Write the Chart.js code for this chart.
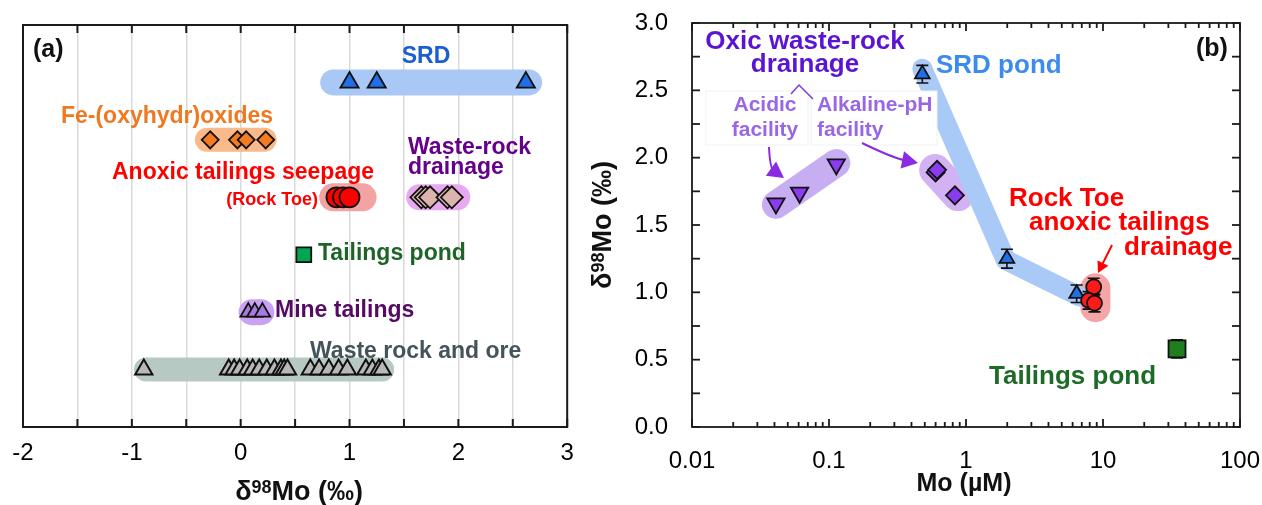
<!DOCTYPE html>
<html>
<head>
<meta charset="utf-8">
<script src="https://cdn.jsdelivr.net/npm/chart.js@4.4.1/dist/chart.umd.min.js"></script>
<style>
  body { margin: 0; background: #fff; }
  #wrap { position: relative; width: 1262px; height: 505px; }
  #chartA { position: absolute; left: 0; top: 0; }
  #chartB { position: absolute; left: 580px; top: 0; }
</style>
</head>
<body>
<div id="wrap">
  <canvas id="chartA" width="580" height="505"></canvas>
  <canvas id="chartB" width="682" height="505"></canvas>
</div>
<script>
const FONT = "'Liberation Sans', Arial, sans-serif";

// ---------- panel (a): d98Mo per reservoir, one row per group ----------
const rowSRD = 6, rowFe = 5, rowSeep = 4, rowPond = 3, rowMine = 2, rowWaste = 1;
const srdA = [1.0, 1.25, 2.62];
const feA = [-0.28, -0.03, 0.05, 0.23];
const rockToeA = [0.88, 0.94, 1.0];
const wrDrainA = [1.66, 1.70, 1.74, 1.90, 1.94];
const pondA = [0.58];
const mineTailA = [0.07, 0.13, 0.2];
const wasteRockA = [-0.89, -0.11, -0.06, -0.01, 0.06, 0.11, 0.17, 0.24, 0.31, 0.37, 0.40, 0.43,
                    0.64, 0.72, 0.81, 0.90, 0.98, 1.15, 1.21, 1.27, 1.30];
// shaded ranges behind each group (start, end)
const srdBandA = [0.85, 2.65];
const feBandA = [-0.31, 0.22];
const rockToeBandA = [0.85, 1.12];
const wrDrainBandA = [1.64, 1.99];
const mineBandA = [0.10, 0.19];
const wasteBandA = [-0.87, 1.30];

// ---------- panel (b): d98Mo vs Mo concentration ----------
const srdMo = [0.48, 1.99, 6.42];
const srdD = [2.62, 1.25, 0.99];
const srdErr = [0.065, 0.07, 0.065];
const rockToeMo = [8.55, 7.85, 8.67];
const rockToeD = [1.04, 0.94, 0.92];
const rockToeErr = [0.065, 0.065, 0.065];
const pondMo = [34.7];
const pondD = [0.58];
const pondErr = [0.068];
const acidicMo = [0.041, 0.061, 0.113];
const acidicD = [1.66, 1.74, 1.95];
const alkMo = [0.60, 0.615, 0.83];
const alkD = [1.89, 1.91, 1.72];
// shaded trends
const srdBandMo = [0.48, 1.95, 6.7];
const srdBandD = [2.66, 1.24, 0.97];
const acidicBandMo = [0.041, 0.113];
const acidicBandD = [1.65, 1.96];
const alkBandMo = [0.595, 0.875];
const alkBandD = [1.908, 1.722];
const rockToeBandMo = [8.8, 8.8];
const rockToeBandD = [1.03, 0.89];

const onRow = (xs, row) => xs.map(x => ({ x, y: row }));
const pairs = (xs, ys) => xs.map((x, i) => ({ x, y: ys[i] }));

function pointSet(data, style, fill, r, extra) {
  return Object.assign({
    data, pointStyle: style, pointRadius: r, pointHoverRadius: r,
    pointBackgroundColor: fill, pointBorderColor: '#111', pointBorderWidth: 1.8,
    showLine: false, order: 1
  }, extra || {});
}
function bandSet(data, color, w) {
  return {
    data, showLine: true, borderColor: color, borderWidth: w,
    borderCapStyle: 'round', borderJoinStyle: 'round',
    pointRadius: 0, pointHoverRadius: 0, order: 5
  };
}

function drawRich(ctx, parts, x, y, align) {
  let w = 0;
  parts.forEach(p => { ctx.font = `bold ${p[1]}px ${FONT}`; w += ctx.measureText(p[0]).width; });
  let cx = align === 'center' ? x - w / 2 : align === 'right' ? x - w : x;
  ctx.textAlign = 'left';
  ctx.textBaseline = 'middle';
  parts.forEach(p => {
    ctx.font = `bold ${p[1]}px ${FONT}`;
    ctx.fillText(p[0], cx, y - (p[2] || 0));
    cx += ctx.measureText(p[0]).width;
  });
}

function arrow(ctx, pts, color, lw, head) {
  ctx.strokeStyle = color; ctx.fillStyle = color; ctx.lineWidth = lw;
  const tip = pts[pts.length - 1], from = pts[pts.length - 2];
  const a = Math.atan2(tip[1] - from[1], tip[0] - from[0]);
  const bx = tip[0] - Math.cos(a) * head * 0.8, by = tip[1] - Math.sin(a) * head * 0.8;
  ctx.beginPath();
  ctx.moveTo(pts[0][0], pts[0][1]);
  if (pts.length === 3) ctx.quadraticCurveTo(pts[1][0], pts[1][1], bx, by);
  else ctx.lineTo(bx, by);
  ctx.stroke();
  const px = -Math.sin(a), py = Math.cos(a);
  const hx = tip[0] - Math.cos(a) * head, hy = tip[1] - Math.sin(a) * head;
  ctx.beginPath();
  ctx.moveTo(tip[0], tip[1]);
  ctx.lineTo(hx + px * head * 0.55, hy + py * head * 0.55);
  ctx.lineTo(hx - px * head * 0.55, hy - py * head * 0.55);
  ctx.closePath();
  ctx.fill();
}

const errorBars = {
  id: 'errorBars',
  beforeDatasetDraw(chart, args) {
    const ds = chart.data.datasets[args.index];
    if (!ds.err) return;
    const { ctx, scales: { x, y } } = chart;
    ctx.save();
    ctx.strokeStyle = '#111';
    ctx.lineWidth = 1.6;
    ds.data.forEach((p, i) => {
      const px = x.getPixelForValue(p.x);
      const t = y.getPixelForValue(p.y + ds.err[i]);
      const b = y.getPixelForValue(p.y - ds.err[i]);
      ctx.beginPath();
      ctx.moveTo(px, t); ctx.lineTo(px, b);
      ctx.moveTo(px - 6, t); ctx.lineTo(px + 6, t);
      ctx.moveTo(px - 6, b); ctx.lineTo(px + 6, b);
      ctx.stroke();
    });
    ctx.restore();
  }
};

// labels, boxes and arrows, given in page pixels
function notes(ox, cfg) {
  return {
    id: 'notes',
    afterDatasetsDraw(chart) {
      const ctx = chart.ctx;
      ctx.save();
      (cfg.boxes || []).forEach(b => {
        ctx.fillStyle = '#fff';
        ctx.fillRect(b[0] - ox, b[1], b[2], b[3]);
        ctx.strokeStyle = '#f2f2f2'; ctx.lineWidth = 1;
        ctx.strokeRect(b[0] - ox, b[1], b[2], b[3]);
      });
      (cfg.arrows || []).forEach(a => {
        arrow(ctx, a.pts.map(p => [p[0] - ox, p[1]]), a.color, a.lw, a.head);
      });
      (cfg.lines || []).forEach(l => {
        ctx.strokeStyle = l.color; ctx.lineWidth = l.lw;
        ctx.beginPath();
        l.pts.forEach((p, i) => i ? ctx.lineTo(p[0] - ox, p[1]) : ctx.moveTo(p[0] - ox, p[1]));
        ctx.stroke();
      });
      cfg.texts.forEach(t => {
        ctx.fillStyle = t.color;
        drawRich(ctx, [[t.t, t.size]], t.x - ox, t.y, t.align);
      });
      const a = chart.chartArea;
      ctx.fillStyle = '#111';
      drawRich(ctx, cfg.xTitle, (a.left + a.right) / 2 + (cfg.xTitleDx || 0), cfg.xTitleY, 'center');
      if (cfg.yTitle) {
        ctx.save();
        ctx.translate(cfg.yTitleX - ox, (a.top + a.bottom) / 2);
        ctx.rotate(-Math.PI / 2);
        drawRich(ctx, cfg.yTitle, 0, 0, 'center');
        ctx.restore();
      }
      ctx.restore();
    }
  };
}

function tickLine(ctx, x1, y1, x2, y2) {
  ctx.beginPath(); ctx.moveTo(x1, y1); ctx.lineTo(x2, y2); ctx.stroke();
}

const frameA = {
  id: 'frameA',
  afterDraw(chart) {
    const { ctx, chartArea: a, scales: { x } } = chart;
    ctx.save();
    ctx.strokeStyle = '#1a1a1a';
    ctx.lineWidth = 2;
    x.ticks.forEach(t => {
      const px = x.getPixelForValue(t.value);
      tickLine(ctx, px, a.top, px, a.top + 8);
      tickLine(ctx, px, a.bottom, px, a.bottom - 8);
    });
    ctx.strokeRect(a.left, a.top, a.width, a.height);
    ctx.restore();
  }
};

const frameB = {
  id: 'frameB',
  afterDraw(chart) {
    const { ctx, chartArea: a, scales: { x, y } } = chart;
    ctx.save();
    ctx.strokeStyle = '#1a1a1a';
    ctx.lineWidth = 1.8;
    y.ticks.forEach(t => {
      const py = y.getPixelForValue(t.value);
      tickLine(ctx, a.left, py, a.left + 8, py);
      tickLine(ctx, a.right, py, a.right - 8, py);
    });
    for (let e = Math.round(Math.log10(x.min)); e < Math.round(Math.log10(x.max)) + 1; e++) {
      for (let m = 1; m <= 9; m++) {
        const v = m * Math.pow(10, e);
        if (v > x.max * 1.0001) break;
        const px = x.getPixelForValue(v);
        const len = m === 1 ? 8 : 5;
        tickLine(ctx, px, a.bottom, px, a.bottom - len);
        tickLine(ctx, px, a.top, px, a.top + len);
      }
    }
    ctx.strokeRect(a.left, a.top, a.width, a.height);
    ctx.restore();
  }
};

const noPad = s => { s.paddingLeft = 0; s.paddingRight = 0; s.paddingTop = 0; s.paddingBottom = 0; };
const titleD = [['δ', 27], ['98', 18, 4.5], ['Mo (‰)', 27]];

// ---------------- chart (a) ----------------
new Chart(document.getElementById('chartA'), {
  type: 'scatter',
  data: {
    datasets: [
      pointSet(onRow(srdA, rowSRD), 'triangle', '#1f6fe8', 10.5),
      pointSet(onRow(feA, rowFe), 'rectRot', '#f47b20', 8.5),
      pointSet(onRow(rockToeA, rowSeep), 'circle', '#ff0000', 10),
      pointSet(onRow(wrDrainA, rowSeep), 'rectRot', '#dcb4ae', 11),
      pointSet(onRow(pondA, rowPond), 'rect', '#00a651', 10.5),
      pointSet(onRow(mineTailA, rowMine), 'triangle', '#a77ae0', 9),
      pointSet(onRow(wasteRockA, rowWaste), 'triangle', '#b8b8b8', 10, { pointBorderWidth: 2 }),
      bandSet(onRow(srdBandA, rowSRD), '#aac8f5', 26),
      bandSet(onRow(feBandA, rowFe), '#f9b98a', 24),
      bandSet(onRow(rockToeBandA, rowSeep), '#f4a3a3', 28),
      bandSet(onRow(wrDrainBandA, rowSeep), '#e7a9f2', 26),
      bandSet(onRow(mineBandA, rowMine), '#c9a2f2', 26),
      bandSet(onRow(wasteBandA, rowWaste), '#b7c9c2', 24)
    ]
  },
  options: {
    responsive: false,
    animation: false,
    events: [],
    layout: { padding: { left: 23, right: 10, top: 25, bottom: 0 } },
    plugins: { legend: { display: false }, tooltip: { enabled: false } },
    scales: {
      x: {
        type: 'linear', min: -2, max: 3,
        afterFit: s => { s.height = 78; noPad(s); },
        border: { display: false },
        grid: { color: '#dadada', lineWidth: 1.5, drawTicks: false },
        ticks: {
          stepSize: 0.5, autoSkip: false, maxRotation: 0, padding: 12, color: '#000',
          font: { family: FONT, size: 24 },
          callback: v => Number.isInteger(v) ? String(v) : ''
        }
      },
      y: { type: 'linear', min: 0, max: 7, display: false }
    }
  },
  plugins: [errorBars, notes(0, {
    texts: [
      { t: '(a)', x: 33, y: 50, align: 'left', color: '#111', size: 25 },
      { t: 'SRD', x: 426, y: 57, align: 'center', color: '#1a5fd2', size: 23 },
      { t: 'Fe-(oxyhydr)oxides', x: 167, y: 117, align: 'center', color: '#f07820', size: 23 },
      { t: 'Anoxic tailings seepage', x: 243, y: 173, align: 'center', color: '#ff0000', size: 23 },
      { t: '(Rock Toe)', x: 318, y: 200, align: 'right', color: '#ff0000', size: 18 },
      { t: 'Waste-rock', x: 408, y: 148, align: 'left', color: '#64008a', size: 23 },
      { t: 'drainage', x: 408, y: 168, align: 'left', color: '#64008a', size: 23 },
      { t: 'Tailings pond', x: 318, y: 254, align: 'left', color: '#1e6428', size: 23 },
      { t: 'Mine tailings', x: 275, y: 311, align: 'left', color: '#550a64', size: 23 },
      { t: 'Waste rock and ore', x: 310, y: 352, align: 'left', color: '#44545a', size: 23 }
    ],
    xTitle: titleD, xTitleY: 493, xTitleDx: 4
  }), frameA]
});

// ---------------- chart (b) ----------------
const isDecade = v => Math.abs(Math.log10(v) - Math.round(Math.log10(v))) < 1e-9;

new Chart(document.getElementById('chartB'), {
  type: 'scatter',
  data: {
    datasets: [
      pointSet(pairs(rockToeMo, rockToeD), 'circle', '#ff1a1a', 7.5, { err: rockToeErr }),
      pointSet(pairs(srdMo, srdD), 'triangle', '#1f6fe8', 8.5, { err: srdErr }),
      pointSet(pairs(pondMo, pondD), 'rect', '#1f7f1f', 12, { err: pondErr }),
      pointSet(pairs(acidicMo, acidicD), 'triangle', '#8c3cf0', 10, { pointRotation: 180 }),
      pointSet(pairs(alkMo, alkD), 'rectRot', '#8c3cf0', 9),
      bandSet(pairs(srdBandMo, srdBandD), '#a9c9f6', 20),
      bandSet(pairs(acidicBandMo, acidicBandD), '#c7aef2', 28),
      bandSet(pairs(alkBandMo, alkBandD), '#d2b2f2', 32),
      bandSet(pairs(rockToeBandMo, rockToeBandD), '#f5a5a5', 30)
    ]
  },
  options: {
    responsive: false,
    animation: false,
    events: [],
    layout: { padding: { left: 0, right: 22, top: 23, bottom: 0 } },
    plugins: { legend: { display: false }, tooltip: { enabled: false } },
    scales: {
      x: {
        type: 'logarithmic', min: 0.01, max: 100,
        afterFit: s => { s.height = 78; noPad(s); },
        border: { display: false },
        grid: { display: false },
        ticks: {
          autoSkip: false, maxRotation: 0, padding: 12, color: '#000',
          font: { family: FONT, size: 24 },
          callback: v => isDecade(v) ? String(v) : ''
        }
      },
      y: {
        type: 'linear', min: 0, max: 3,
        afterFit: s => { s.width = 112; noPad(s); },
        border: { display: false },
        grid: { display: false },
        ticks: {
          stepSize: 0.25, autoSkip: false, padding: 16, color: '#000',
          font: { family: FONT, size: 24 },
          callback: v => Math.round(v * 4) % 2 === 0 ? v.toFixed(1) : ''
        }
      }
    }
  },
  plugins: [errorBars, notes(580, {
    boxes: [[706, 91, 102, 54], [811, 91, 126, 54]],
    arrows: [
      { pts: [[769, 147], [770, 168], [784, 178]], color: '#8a2be2', lw: 2, head: 16 },
      { pts: [[862, 143], [893, 158], [918, 163]], color: '#8a2be2', lw: 2, head: 16 },
      { pts: [[1112, 245], [1098, 273]], color: '#ff0000', lw: 2, head: 11 }
    ],
    lines: [{ pts: [[791, 94], [799, 85], [813, 99]], color: '#7a3be0', lw: 1.5 }],
    texts: [
      { t: 'Oxic waste-rock', x: 805, y: 42, align: 'center', color: '#5a14d2', size: 26 },
      { t: 'drainage', x: 805, y: 65, align: 'center', color: '#5a14d2', size: 26 },
      { t: 'Acidic', x: 765, y: 105, align: 'center', color: '#9966e6', size: 21 },
      { t: 'facility', x: 765, y: 130, align: 'center', color: '#9966e6', size: 21 },
      { t: 'Alkaline-pH', x: 817, y: 105, align: 'left', color: '#9966e6', size: 21 },
      { t: 'facility', x: 817, y: 130, align: 'left', color: '#9966e6', size: 21 },
      { t: 'SRD pond', x: 936, y: 66, align: 'left', color: '#3c8cf0', size: 26 },
      { t: '(b)', x: 1196, y: 49, align: 'left', color: '#111', size: 25 },
      { t: 'Rock Toe', x: 1009, y: 199, align: 'left', color: '#ff0000', size: 26 },
      { t: 'anoxic tailings', x: 1029, y: 223, align: 'left', color: '#ff0000', size: 26 },
      { t: 'drainage', x: 1124, y: 248, align: 'left', color: '#ff0000', size: 26 },
      { t: 'Tailings pond', x: 989, y: 377, align: 'left', color: '#1e6b28', size: 26 }
    ],
    xTitle: [['Mo (µM)', 25]], xTitleY: 484, xTitleDx: -2,
    yTitle: titleD, yTitleX: 604
  }), frameB]
});
</script>
</body>
</html>
